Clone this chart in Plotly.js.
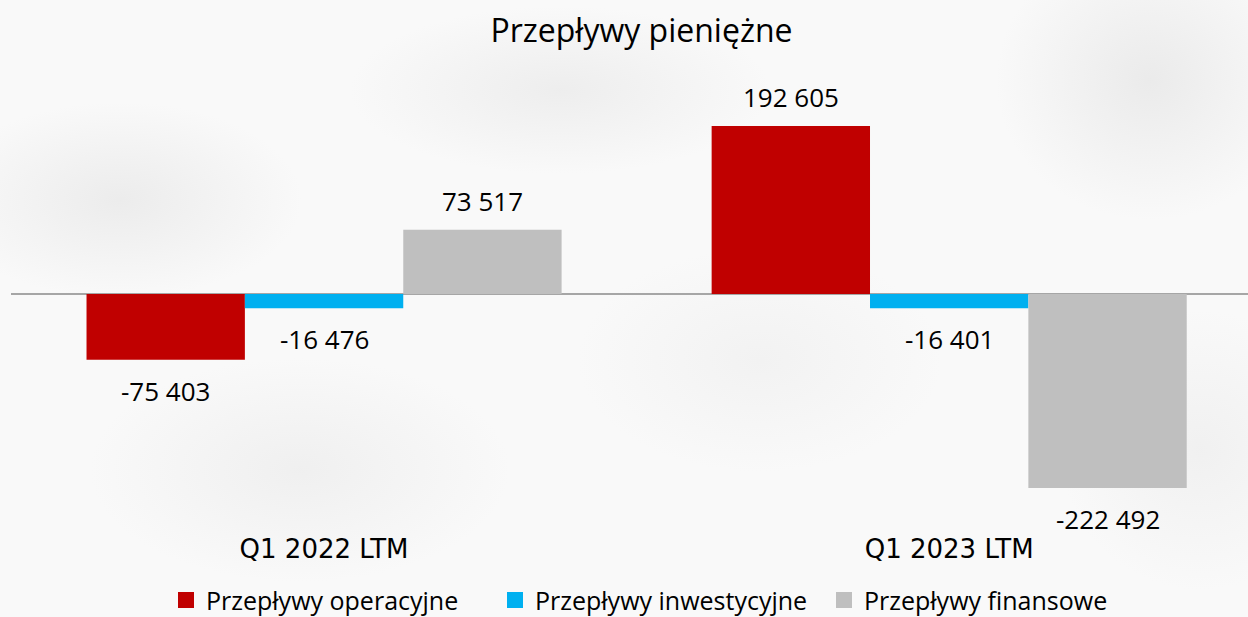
<!DOCTYPE html>
<html>
<head>
<meta charset="utf-8">
<script src="https://cdn.plot.ly/plotly-3.0.1.min.js"></script>
<style>
  html, body { margin: 0; padding: 0; }
  body {
    width: 1248px; height: 617px; overflow: hidden;
    background:
      radial-gradient(ellipse 260px 140px at 120px 200px, rgba(225,225,225,0.55), rgba(255,255,255,0) 70%),
      radial-gradient(ellipse 300px 120px at 560px 90px, rgba(228,228,228,0.55), rgba(255,255,255,0) 70%),
      radial-gradient(ellipse 220px 200px at 1150px 80px, rgba(225,225,225,0.6), rgba(255,255,255,0) 70%),
      radial-gradient(ellipse 300px 160px at 300px 470px, rgba(230,230,230,0.5), rgba(255,255,255,0) 70%),
      radial-gradient(ellipse 260px 160px at 760px 360px, rgba(235,235,235,0.5), rgba(255,255,255,0) 70%),
      radial-gradient(ellipse 200px 200px at 1200px 450px, rgba(232,232,232,0.5), rgba(255,255,255,0) 70%),
      #f9f9f9;
  }
  #chart { width: 1248px; height: 617px; }
</style>
</head>
<body>
<div id="chart"></div>
<script>
const categories = ["Q1 2022 LTM", "Q1 2023 LTM"];
const seriesNames = ["Przepływy operacyjne", "Przepływy inwestycyjne", "Przepływy finansowe"];
const operacyjne = [-75403, 192605];
const inwestycyjne = [-16476, -16401];
const finansowe = [73517, -222492];
const seriesValues = [operacyjne, inwestycyjne, finansowe];
const seriesColors = ["#c00000", "#00b0f0", "#bfbfbf"];

const FONT = "Open Sans, Noto Sans, sans-serif";
const TICKFONT = "DejaVu Sans, Verdana, sans-serif";
const W = 1248, H = 617;
const margin = {l: 11, r: 0, t: 60, b: 87, pad: 0};
const xRange = [-0.5008, 1.478];
const yRange = [-270565, 268271];
const bargap = 0.24;

function fmt(v) {
  const s = Math.abs(v).toString().replace(/\B(?=(\d{3})+(?!\d))/g, " ");
  return (v < 0 ? "-" : "") + s;
}

const barTraces = seriesNames.map((name, i) => ({
  type: "bar",
  name: name,
  x: categories,
  y: seriesValues[i],
  marker: {color: seriesColors[i], line: {width: 0}},
  showlegend: false,
  hoverinfo: "skip"
}));

// legend-only entries with larger square swatches
const legendTraces = seriesNames.map((name, i) => ({
  type: "scatter",
  mode: "markers",
  name: name,
  x: [null], y: [null],
  marker: {symbol: "square", size: 16, color: seriesColors[i]},
  showlegend: true,
  hoverinfo: "skip"
}));

const plotW = W - margin.l - margin.r;
const catPx = plotW / (xRange[1] - xRange[0]);
const barPx = catPx * (1 - bargap) / seriesNames.length;

const annotations = [];
seriesValues.forEach((vals, i) => {
  vals.forEach((v, j) => {
    annotations.push({
      x: categories[j], y: v, xref: "x", yref: "y",
      text: fmt(v), showarrow: false,
      xshift: (i - (seriesNames.length - 1) / 2) * barPx,
      yanchor: "middle",
      yshift: v >= 0 ? 29 : -31,
      font: {family: FONT, size: 26, color: "#000000"}
    });
  });
});

const layout = {
  width: W, height: H,
  margin: margin,
  paper_bgcolor: "rgba(0,0,0,0)",
  plot_bgcolor: "rgba(0,0,0,0)",
  font: {family: FONT, color: "#000000"},
  title: {
    text: "Przepływy pieniężne",
    font: {family: FONT, size: 32, color: "#000000"},
    x: 0.514, xanchor: "center", y: 0.95, yanchor: "middle", yref: "container"
  },
  barmode: "group",
  bargap: bargap,
  bargroupgap: 0,
  showlegend: true,
  legend: {
    orientation: "h",
    x: (166 - 11) / 1237, xanchor: "left",
    y: 0.027, yanchor: "middle", yref: "container",
    font: {family: FONT, size: 25, color: "#000000"},
    itemwidth: 30,
    entrywidth: 284,
    entrywidthmode: "pixels",
    itemclick: false, itemdoubleclick: false,
    bgcolor: "rgba(0,0,0,0)"
  },
  xaxis: {
    type: "category",
    range: xRange,
    showline: false, showgrid: false, zeroline: false,
    ticks: "",
    ticklabelstandoff: 1,
    tickfont: {family: TICKFONT, size: 26, color: "#000000"},
    fixedrange: true
  },
  yaxis: {
    range: yRange,
    showgrid: false,
    showticklabels: false,
    ticks: "",
    showline: false,
    zeroline: true,
    zerolinecolor: "#a6a6a6",
    zerolinewidth: 2,
    fixedrange: true
  },
  annotations: annotations
};

Plotly.newPlot("chart", barTraces.concat(legendTraces), layout, {displayModeBar: false, staticPlot: true});
</script>
</body>
</html>
